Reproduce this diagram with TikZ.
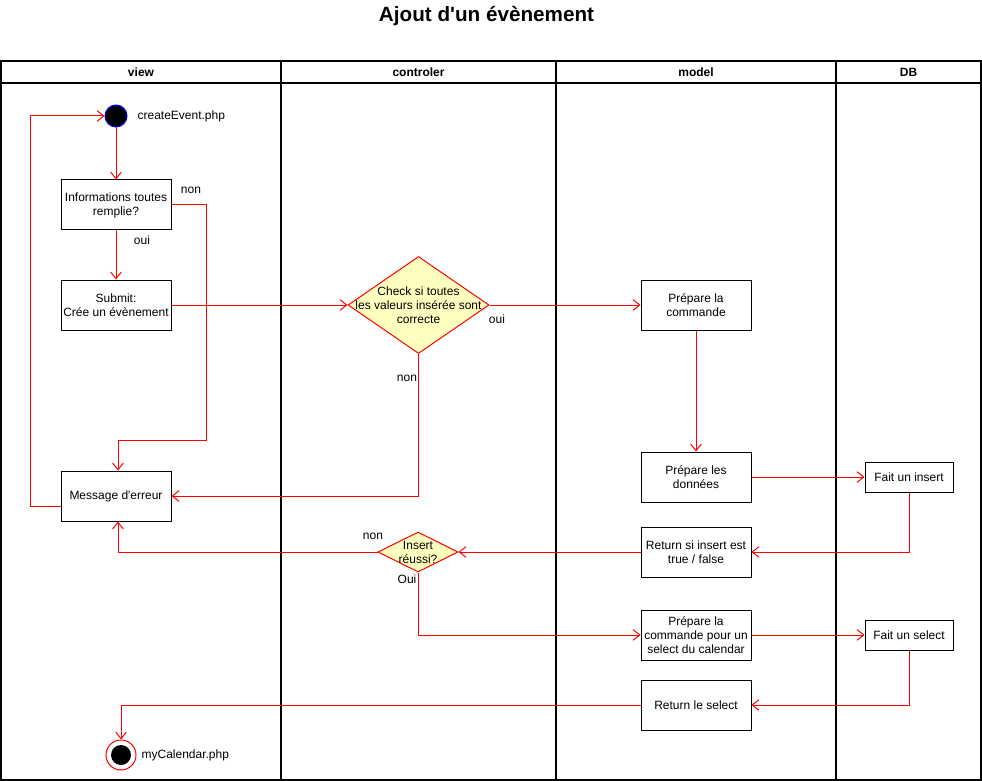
\documentclass[tikz,border=0pt]{standalone}
\usepackage{fontspec}
\setmainfont{Liberation Sans}[Ligatures=TeXOff]
\usetikzlibrary{arrows.meta,shapes.geometric}
\definecolor{yfill}{HTML}{FFFFC0}
\begin{document}
\begin{tikzpicture}[x=0.75pt,y=-0.75pt,
  font=\fontsize{9}{10.5}\selectfont,
  lane/.style={draw=black,line width=0.9pt},
  act/.style={draw=black,line width=0.75pt,rectangle,minimum width=82.5pt,minimum height=37.5pt,align=center,inner sep=1pt,fill=white},
  small/.style={draw=black,line width=0.75pt,rectangle,minimum width=66pt,minimum height=22.5pt,align=center,inner sep=1pt,fill=white},
  dec/.style={draw=red,line width=0.75pt,fill=yfill,diamond,inner sep=0pt},
  flow/.style={draw=red,line width=0.75pt,-{Straight Barb[length=5pt,width=8pt]}},
  lbl/.style={inner sep=1pt},
  hdr/.style={font=\fontsize{9}{10.5}\selectfont\bfseries}]
\useasboundingbox (0,0) rectangle (982,781);
% title
\node[font=\fontsize{15.5}{18}\selectfont\bfseries] (title) at (486.5,16) {Ajout d'un évènement};
% pool and lanes
\draw[lane] (1,61) rectangle (981,780);
\draw[lane] (1,83) -- (981,83);
\draw[lane] (281,61) -- (281,780);
\draw[lane] (556,61) -- (556,780);
\draw[lane] (836,61) -- (836,780);
\node[hdr] (hview) at (141,72) {view};
\node[hdr] (hctrl) at (418.5,72) {controler};
\node[hdr] (hmodel) at (696,72) {model};
\node[hdr] (hdb) at (908.5,72) {DB};
% nodes
\node[circle,draw=blue,fill=black,minimum size=16.5pt,inner sep=0pt,line width=0.75pt] (start) at (116,116) {};
\node[lbl,anchor=west] (startl) at (136,116) {createEvent.php};
\node[act] (b1) at (116,205) {Informations toutes\\remplie?};
\node[act] (b2) at (116,305) {Submit:\\Crée un évènement};
\node[dec,minimum width=105.75pt,minimum height=72.75pt] (d1) at (418.5,305) {};
\node[align=center,inner sep=0pt] (d1t) at (418.5,305.5) {Check si toutes\\les valeurs insérée sont\\correcte};
\node[act] (p1) at (696,305) {Prépare la\\commande};
\node[act] (p2) at (696,477) {Prépare les\\données};
\node[act] (msg) at (116,496) {Message d'erreur};
\node[small] (ins) at (909,477) {Fait un insert};
\node[act] (r1) at (696,552) {Return si insert est\\true / false};
\node[dec,minimum width=60pt,minimum height=30pt] (d2) at (418,552) {};
\node[align=center,inner sep=0pt] (d2t) at (418,552) {Insert\\réussi?};
\node[act] (p3) at (696,635) {Prépare la\\commande pour un\\select du calendar};
\node[small] (sel) at (909,635) {Fait un select};
\node[act] (r2) at (696,705) {Return le select};
\node[circle,draw=red,fill=white,minimum size=22.5pt,inner sep=0pt,line width=0.75pt] (end) at (121,755) {};
\node[circle,fill=black,minimum size=15pt,inner sep=0pt] (endin) at (end) {};
\node[lbl,anchor=west] (endl) at (140,755) {myCalendar.php};
% edge labels
\node[lbl] (lnon1) at (191,190) {non};
\node[lbl] (loui1) at (142,240) {oui};
\node[lbl] (loui2) at (497,319) {oui};
\node[lbl] (lnon3) at (373,536) {non};
\node[lbl] (loui3) at (407,579) {Oui};
% edges
\draw[flow] (start) -- (b1);
\draw[flow] (b1) -- (b2);
\draw[flow] (b1.east) -| (206,440) -| ([xshift=1.5pt]msg.north);
\draw[flow] (b2.east) -- (d1.west);
\draw[flow] (d1.east) -- (p1.west);
\draw[flow] (d1.south) |- (msg.east);
\node[lbl,fill=white] (lnon2) at (407,378) {non};
\draw[flow] (p1) -- (p2);
\draw[flow] (p2) -- (ins);
\draw[flow] (ins.south) |- (r1.east);
\draw[flow] (r1.west) -- (d2.east);
\draw[flow] (d2.west) -| ([xshift=1.5pt]msg.south);
\draw[flow] (d2.south) |- (p3.west);
\draw[flow] (p3.east) -- (sel.west);
\draw[flow] (sel.south) |- (r2.east);
\draw[flow] (r2.west) -| (end.north);
\draw[flow] ([yshift=-7.5pt]msg.west) -- ++(-30,0) |- (start.west);
\end{tikzpicture}
\end{document}
